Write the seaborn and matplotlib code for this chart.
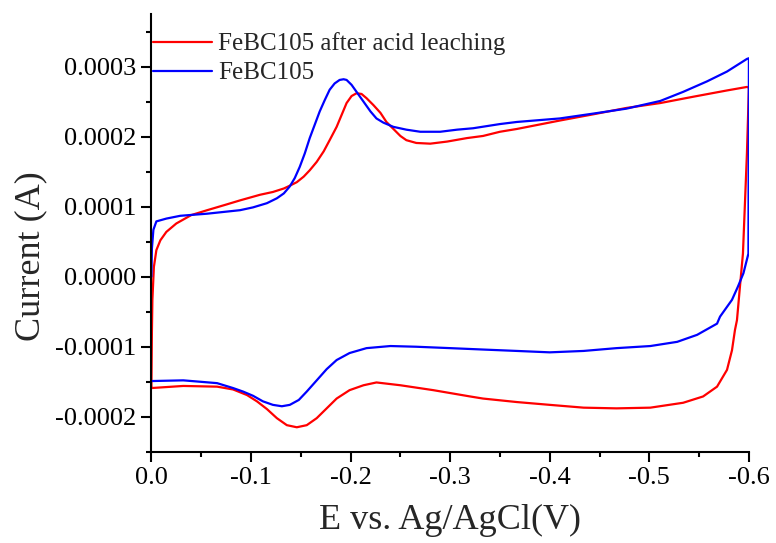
import numpy as np
import pandas as pd
import matplotlib
matplotlib.use("Agg")
import matplotlib.pyplot as plt
from matplotlib.ticker import MultipleLocator, FuncFormatter
import seaborn as sns

# ---------------- data (current in units of 1e-4 A) ----------------
label_red = "FeBC105 after acid leaching"
label_blue = "FeBC105"

red_E = [0.000, -0.0005, -0.001, -0.0025, -0.005, -0.009, -0.015, -0.025, -0.040,
         -0.056, -0.075, -0.089, -0.109, -0.122, -0.133, -0.139, -0.146, -0.153,
         -0.159, -0.166, -0.173, -0.179, -0.186, -0.191, -0.196, -0.201, -0.206,
         -0.211, -0.216, -0.223, -0.230, -0.236, -0.243, -0.250, -0.256, -0.266,
         -0.280, -0.297, -0.317, -0.333, -0.350, -0.367, -0.410, -0.444,
         -0.477, -0.511, -0.544, -0.578, -0.598, -0.600,
         -0.598, -0.594, -0.591, -0.588, -0.586, -0.583, -0.578, -0.568, -0.554,
         -0.534, -0.501, -0.467, -0.434, -0.400, -0.367, -0.333, -0.320, -0.283,
         -0.250, -0.226, -0.213, -0.199, -0.186, -0.176, -0.166, -0.156, -0.146,
         -0.136, -0.126, -0.116, -0.106, -0.096, -0.082, -0.066, -0.032, 0.000]
red_I = [-1.59, -0.80, -0.33, 0.14, 0.38, 0.52, 0.64, 0.76, 0.88,
         0.95, 1.03, 1.09, 1.17, 1.21, 1.26, 1.30, 1.35, 1.43,
         1.52, 1.64, 1.79, 1.95, 2.14, 2.31, 2.48, 2.58, 2.62,
         2.61, 2.55, 2.45, 2.34, 2.21, 2.11, 2.01, 1.95, 1.91,
         1.90, 1.93, 1.98, 2.01, 2.07, 2.11, 2.23, 2.32,
         2.41, 2.48, 2.57, 2.66, 2.71, 2.70,
         1.76, 0.33, -0.14, -0.62, -0.76, -1.05, -1.33, -1.57, -1.71,
         -1.80, -1.87, -1.88, -1.87, -1.83, -1.79, -1.74, -1.71, -1.62,
         -1.55, -1.51, -1.55, -1.62, -1.74, -1.88, -2.02, -2.12, -2.15,
         -2.12, -2.02, -1.89, -1.78, -1.69, -1.61, -1.57, -1.56, -1.59]

blue_E = [0.000, -0.0005, -0.002, -0.005, -0.015, -0.029, -0.056, -0.089, -0.102,
          -0.116, -0.126, -0.133, -0.139, -0.144, -0.149, -0.154, -0.159, -0.164,
          -0.169, -0.174, -0.179, -0.184, -0.189, -0.193, -0.196, -0.201, -0.206,
          -0.213, -0.220, -0.226, -0.233, -0.243, -0.256, -0.270, -0.290, -0.307,
          -0.323, -0.350, -0.367, -0.410, -0.444, -0.477, -0.511, -0.534, -0.558,
          -0.578, -0.598, -0.600,
          -0.5995, -0.5945, -0.589, -0.583, -0.571, -0.568, -0.548, -0.528, -0.501,
          -0.467, -0.434, -0.400, -0.367, -0.333, -0.300, -0.266, -0.240, -0.216,
          -0.199, -0.186, -0.176, -0.166, -0.156, -0.148, -0.139, -0.131, -0.122,
          -0.112, -0.102, -0.092, -0.082, -0.066, -0.032, 0.000]
blue_I = [0.00, 0.40, 0.67, 0.79, 0.83, 0.87, 0.90, 0.95, 0.99,
          1.05, 1.12, 1.19, 1.29, 1.41, 1.57, 1.76, 1.98, 2.17,
          2.36, 2.52, 2.67, 2.76, 2.81, 2.82, 2.81, 2.74, 2.64,
          2.50, 2.36, 2.26, 2.20, 2.14, 2.10, 2.07, 2.07, 2.10,
          2.12, 2.18, 2.21, 2.26, 2.33, 2.40, 2.51, 2.64, 2.79,
          2.93, 3.11, 3.12,
          0.33, 0.05, -0.14, -0.33, -0.57, -0.67, -0.83, -0.93, -0.99,
          -1.02, -1.06, -1.08, -1.06, -1.04, -1.02, -1.00, -0.99, -1.02,
          -1.09, -1.19, -1.32, -1.48, -1.64, -1.76, -1.83, -1.85, -1.83,
          -1.78, -1.70, -1.64, -1.59, -1.52, -1.48, -1.49]

x_ticks = [0.0, -0.1, -0.2, -0.3, -0.4, -0.5, -0.6]
y_ticks = [-0.0002, -0.0001, 0.0, 0.0001, 0.0002, 0.0003]

# ---------------- build table ----------------
df = pd.concat([
    pd.DataFrame({"E": red_E, "I": np.array(red_I) * 1e-4,
                  "sample": label_red, "order": np.arange(len(red_E))}),
    pd.DataFrame({"E": blue_E, "I": np.array(blue_I) * 1e-4,
                  "sample": label_blue, "order": np.arange(len(blue_E))}),
], ignore_index=True)

sns.set_style("ticks")
plt.rcParams["font.family"] = ["Liberation Serif", "DejaVu Serif"]
plt.rcParams["axes.unicode_minus"] = False

fig = plt.figure(figsize=(7.76, 5.43), dpi=100)
ax = fig.add_axes([0.1951, 0.168, 0.7700, 0.806])

sns.lineplot(data=df, x="E", y="I", hue="sample", hue_order=[label_red, label_blue],
             palette={label_red: "#ff0000", label_blue: "#0000ff"},
             sort=False, estimator=None, linewidth=1.6, ax=ax)

ax.set_xlim(0.0, -0.6)
ax.set_ylim(-0.00025, 0.000375)
ax.set_xticks(x_ticks)
ax.set_yticks(y_ticks)
ax.xaxis.set_minor_locator(MultipleLocator(0.05))
ax.yaxis.set_minor_locator(MultipleLocator(0.00005))
ax.xaxis.set_major_formatter(FuncFormatter(lambda v, p: "0.0" if abs(v) < 1e-9 else f"{v:.1f}"))
ax.yaxis.set_major_formatter(FuncFormatter(lambda v, p: "0.0000" if abs(v) < 1e-10 else f"{v:.4f}"))

for s in ["top", "right"]:
    ax.spines[s].set_visible(False)
for s in ["left", "bottom"]:
    ax.spines[s].set_linewidth(1.5)
    ax.spines[s].set_color("black")

ax.tick_params(which="major", direction="out", length=7, width=1.5, labelsize=19, pad=4, colors="black")
ax.tick_params(which="minor", direction="out", length=3.6, width=1.5, colors="black")

ax.set_xlabel("E vs. Ag/AgCl(V)", fontsize=26, labelpad=11)
ax.set_ylabel("Current (A)", fontsize=26)
ax.yaxis.set_label_coords(-0.175, 0.447)

leg = ax.legend(loc="upper left", bbox_to_anchor=(0.003, 0.958), frameon=False,
                fontsize=18, handlelength=2.36, handletextpad=0.25,
                borderpad=0, borderaxespad=0, labelspacing=0.26)
for line in leg.get_lines():
    line.set_linewidth(1.6)

fig.savefig("out.png", dpi=100)
